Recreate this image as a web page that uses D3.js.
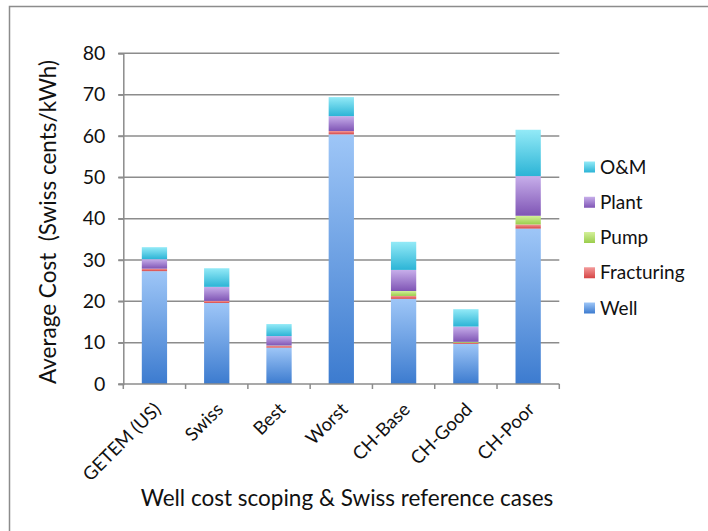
<!DOCTYPE html>
<html><head><meta charset="utf-8">
<script src="https://cdn.jsdelivr.net/npm/d3@7"></script>
<style>
html,body{margin:0;padding:0;background:#fff;}
svg{display:block;font-family:Lato,"Liberation Sans",sans-serif;}
</style></head>
<body>
<svg id="chart" width="708" height="531"></svg>
<script>
const categories = ["GETEM (US)","Swiss","Best","Worst","CH-Base","CH-Good","CH-Poor"];
const seriesNames = ["Well","Fracturing","Pump","Plant","O&M"];
const well       = [27.3,19.6,8.8,60.4,20.6,9.7,37.6];
const fracturing = [0.6,0.5,0.4,0.8,0.7,0.3,1.0];
const pump       = [0.0,0.0,0.1,0.0,1.2,0.2,2.1];
const plant      = [2.3,3.4,2.3,3.6,5.1,3.7,9.6];
const om         = [2.9,4.5,2.9,4.6,6.8,4.2,11.2];
const yTicks = [0,10,20,30,40,50,60,70,80];
const colorsTop    = ["#9ec6f7","#f39a9a","#d4f09a","#c7aeea","#93eaf7"];
const colorsBottom = ["#3c7bcf","#d64545","#9acd4c","#7f55b5","#2cb4d6"];

const rows = categories.map((c,i)=>({cat:c,"Well":well[i],"Fracturing":fracturing[i],"Pump":pump[i],"Plant":plant[i],"O&M":om[i]}));
const stacked = d3.stack().keys(seriesNames)(rows);

const svg = d3.select("#chart");
const defs = svg.append("defs");
seriesNames.forEach((s,i)=>{
  const g = defs.append("linearGradient").attr("id","g"+i).attr("x1",0).attr("y1",0).attr("x2",0).attr("y2",1);
  g.append("stop").attr("offset","0%").attr("stop-color",colorsTop[i]);
  g.append("stop").attr("offset","100%").attr("stop-color",colorsBottom[i]);
});

// frame
svg.append("rect").attr("x",9.5).attr("y",6.5).attr("width",720).attr("height",540)
  .attr("fill","none").attr("stroke","#8c8c8c").attr("stroke-width",1.5);

const x0 = 123.3, x1 = 559.3, yBottom = 384, yTop = 53.3;
const x = d3.scaleBand().domain(categories).range([x0,x1]).paddingInner(0.594).paddingOuter(0.297);
const y = d3.scaleLinear().domain([0,80]).range([yBottom,yTop]);

// gridlines
svg.append("g").selectAll("line").data(yTicks.filter(t=>t>0)).join("line")
  .attr("x1",x0-5).attr("x2",x1).attr("y1",d=>y(d)).attr("y2",d=>y(d))
  .attr("stroke","#8c8c8c").attr("stroke-width",1.5);

// y axis
const yAxis = d3.axisLeft(y).tickValues(yTicks).tickSize(5).tickPadding(13);
const yg = svg.append("g").attr("transform",`translate(${x0},0)`).call(yAxis);
yg.select(".domain").attr("stroke","#8c8c8c").attr("stroke-width",1.5);
yg.selectAll(".tick line").attr("stroke","#8c8c8c").attr("stroke-width",1.5);
yg.selectAll(".tick text").attr("font-size",19.5).attr("fill","#111").attr("font-family","Lato");

// bars
svg.append("g").selectAll("g").data(stacked).join("g")
  .attr("fill",(d,i)=>`url(#g${i})`)
  .selectAll("rect").data(d=>d).join("rect")
  .attr("x",d=>x(d.data.cat)).attr("width",x.bandwidth())
  .attr("y",d=>y(d[1])).attr("height",d=>Math.max(0,y(d[0])-y(d[1])));

// x axis line + ticks at band boundaries
const xg = svg.append("g");
xg.append("line").attr("x1",x0-5).attr("x2",x1).attr("y1",yBottom).attr("y2",yBottom)
  .attr("stroke","#8c8c8c").attr("stroke-width",1.5);
const bounds = categories.map(c=>x(c)-x.step()*x.paddingOuter()).concat([x1]);
xg.selectAll("line.t").data(bounds).join("line").attr("class","t")
  .attr("x1",d=>d).attr("x2",d=>d).attr("y1",yBottom).attr("y2",yBottom+5)
  .attr("stroke","#8c8c8c").attr("stroke-width",1.5);
xg.selectAll("text").data(categories).join("text")
  .attr("transform",d=>`translate(${x(d)+x.bandwidth()/2+3},${yBottom+22}) rotate(-45)`)
  .attr("text-anchor","end").attr("dy","0.35em")
  .attr("font-size",18.5).attr("fill","#111").text(d=>d);

// axis titles
svg.append("text").attr("x",347).attr("y",506).attr("text-anchor","middle")
  .attr("font-size",22.5).attr("fill","#111").text("Well cost scoping & Swiss reference cases");
svg.append("text").attr("transform","translate(56,222) rotate(-90)").attr("text-anchor","middle")
  .attr("font-size",22.5).attr("fill","#111").style("white-space","pre").text("Average Cost  (Swiss cents/kWh)");

// legend
const legendOrder = [4,3,2,1,0];
const ly = d3.scaleLinear().domain([0,4]).range([167,308]);
const lg = svg.append("g").selectAll("g").data(legendOrder).join("g")
  .attr("transform",(d,i)=>`translate(584,${ly(i)})`);
lg.append("rect").attr("x",0).attr("y",-5.5).attr("width",11).attr("height",11).attr("fill",d=>`url(#g${d})`);
lg.append("text").attr("x",16).attr("dy","0.35em").attr("font-size",19).attr("fill","#111").text(d=>seriesNames[d]);
</script>
</body></html>
